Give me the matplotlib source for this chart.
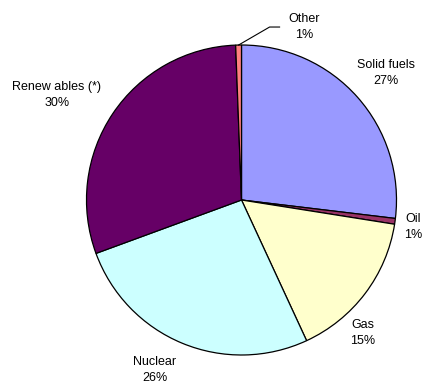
import matplotlib
matplotlib.use("Agg")
import matplotlib.pyplot as plt
import numpy as np

categories = ["Solid fuels", "Oil", "Gas", "Nuclear", "Renewables (*)", "Other"]
values = [26.9, 0.6, 15.6, 26.3, 30.0, 0.6]
pct_labels = ["27%", "1%", "15%", "26%", "30%", "1%"]
colors = ["#9999FF", "#993366", "#FFFFCC", "#CCFFFF", "#660066", "#FF8080"]

plt.rcParams['font.family'] = ['Liberation Sans', 'DejaVu Sans']

W, H = 428, 387
fig = plt.figure(figsize=(W / 100, H / 100), dpi=100)
ax = fig.add_axes([0, 0, 1, 1])
ax.set_xlim(0, W)
ax.set_ylim(0, H)
ax.set_aspect('equal')
ax.axis('off')

cx, cy, r = 241.5, H - 200, 155
wedges, _ = ax.pie(values, colors=colors, startangle=90, counterclock=False,
                   center=(cx, cy), radius=r,
                   wedgeprops=dict(edgecolor='black', linewidth=0.9))
ax.set_xlim(0, W)
ax.set_ylim(0, H)

# label block positions (offset from pie centre, in pixels)
label_pos = {
    "Solid fuels": (144.5, -127),
    "Oil": (171.5, 27),
    "Gas": (121, 133),
    "Nuclear": (-86.5, 170),
    "Renewables (*)": (-184.5, -105),
    "Other": (62.5, -173),
}
display_names = {"Renewables (*)": "Renew ables (*)"}
for name, pct in zip(categories, pct_labels):
    dx, dy = label_pos[name]
    ax.text(cx + dx, cy - dy, f"{display_names.get(name, name)}\n{pct}",
            ha='center', va='center', fontsize=9, linespacing=1.55, color='black')

# leader line for the "Other" slice
w = wedges[-1]
mid = np.deg2rad((w.theta1 + w.theta2) / 2)
px, py = cx + r * np.cos(mid), cy + r * np.sin(mid)
ax.plot([px, px + 31, px + 41], [py, py + 18, py + 18], color='black', linewidth=0.8)

fig.savefig("out.png", dpi=100)
